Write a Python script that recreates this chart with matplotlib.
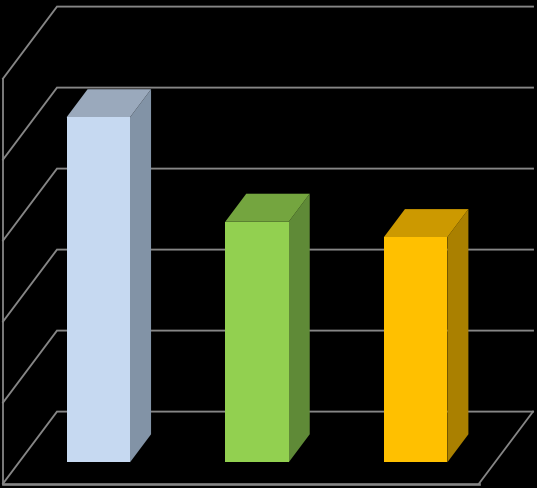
import matplotlib
matplotlib.use("Agg")
import matplotlib.pyplot as plt
from matplotlib.patches import Polygon

categories = ["A", "B", "C"]
values = [4.26, 2.97, 2.78]
ticks = [0, 1, 2, 3, 4, 5]
front_colors = ["#C6D9F1", "#92D050", "#FFC000"]
top_colors = ["#9AA9BC", "#74A53F", "#CC9900"]
side_colors = ["#8293A6", "#5F8A37", "#AA8000"]
grid_color = "#868686"

W, H = 537, 488
fig = plt.figure(figsize=(W / 100, H / 100), dpi=100, facecolor="black")
ax = fig.add_axes([3 / W, (H - 483.6) / H, 476 / W, 405 / H])
ax.set_xlim(0, len(categories))
ax.set_ylim(0, ticks[-1])
ax.axis("off")

DX, DY = 54 / (476 / 3), 72 / 81  # oblique depth vector in data units
def proj(x, y, d):
    return (x + DX * d, y + DY * d)

n = len(categories)
for t in ticks:
    pts = [proj(0, t, 0), proj(0, t, 1), proj(n, t, 1)]
    ax.plot(*zip(*pts), color=grid_color, lw=1.35, clip_on=False, zorder=1,
            solid_joinstyle="miter")
ax.plot([0, 0], [0, ticks[-1]], color=grid_color, lw=1.3, clip_on=False, zorder=1)
ax.plot([0, n], [0, 0], color=grid_color, lw=1.9, clip_on=False, zorder=1)
ax.plot(*zip(proj(n, 0, 0), proj(n, 0, 1)), color=grid_color, lw=1.3, clip_on=False, zorder=1)

bw = 0.40
d0, d1 = 0.295, 0.685
for i, v in enumerate(values):
    l, r = i + 0.5 - bw / 2, i + 0.5 + bw / 2
    front = [proj(l, 0, d0), proj(r, 0, d0), proj(r, v, d0), proj(l, v, d0)]
    top = [proj(l, v, d0), proj(r, v, d0), proj(r, v, d1), proj(l, v, d1)]
    side = [proj(r, 0, d0), proj(r, 0, d1), proj(r, v, d1), proj(r, v, d0)]
    for poly, c in ((side, side_colors[i]), (top, top_colors[i]), (front, front_colors[i])):
        ax.add_patch(Polygon(poly, closed=True, facecolor=c, edgecolor="none",
                             clip_on=False, zorder=3))

fig.savefig("out.png", dpi=100, facecolor="black")
